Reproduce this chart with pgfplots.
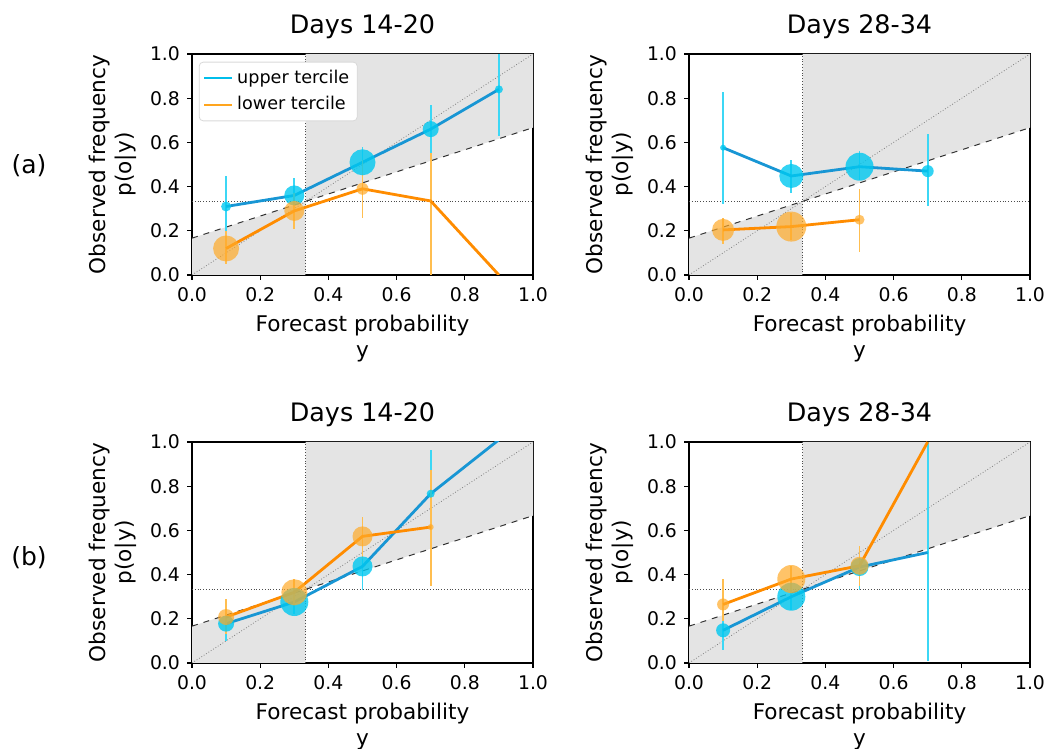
\documentclass[border=0pt]{standalone}
\usepackage{pgfplots}
\pgfplotsset{compat=1.18}
\usepackage{pgfplotstable}
\usepackage{fontspec}
\setmainfont{DejaVu Sans}
\definecolor{lineB}{RGB}{24,150,212}
\definecolor{markB}{RGB}{0,200,240}
\definecolor{errB}{RGB}{60,215,245}
\definecolor{legB}{RGB}{0,190,235}
\definecolor{lineO}{RGB}{255,140,0}
\definecolor{markO}{RGB}{255,170,40}
\definecolor{errO}{RGB}{255,190,80}
\definecolor{legO}{RGB}{255,165,30}
\definecolor{shade}{RGB}{228,228,228}

% x y r(px radius) ep em
\pgfplotstableread{
x y r ep em
0.1 0.31 5 0.14 0.14
0.3 0.36 10 0.08 0.14
0.5 0.51 13 0.07 0.08
0.7 0.66 8 0.11 0.13
0.9 0.84 4 0.16 0.21
}\aLU
\pgfplotstableread{
x y r ep em
0.1 0.12 13 0.08 0.07
0.3 0.29 10 0.08 0.08
0.5 0.39 6 0.13 0.13
0.7 0.335 1 0.215 0.335
0.9 0.0 0 0 0
}\aLL
\pgfplotstableread{
x y r ep em
0.1 0.576 3 0.254 0.256
0.3 0.448 12 0.072 0.078
0.5 0.49 14 0.07 0.06
0.7 0.47 6 0.17 0.16
}\aRU
\pgfplotstableread{
x y r ep em
0.1 0.204 11 0.056 0.064
0.3 0.219 15 0.061 0.059
0.5 0.25 5 0.14 0.145
}\aRL
\pgfplotstableread{
x y r ep em
0.1 0.178 8 0.072 0.078
0.3 0.276 14 0.054 0.056
0.5 0.437 10 0.083 0.107
0.7 0.766 4 0.199 0.206
0.9 1.01 0 0 0
}\bLU
\pgfplotstableread{
x y r ep em
0.1 0.208 8 0.082 0.078
0.3 0.32 13 0.06 0.06
0.5 0.573 10 0.087 0.103
0.7 0.615 3 0.26 0.265
}\bLL
\pgfplotstableread{
x y r ep em
0.1 0.148 7 0.052 0.091
0.3 0.30 14 0.06 0.06
0.5 0.434 9 0.096 0.104
0.7 0.50 1 0.5 0.49
}\bRU
\pgfplotstableread{
x y r ep em
0.1 0.265 6 0.115 0.075
0.3 0.38 14 0.06 0.07
0.5 0.44 9 0.09 0.09
0.7 1.0 0 0 0
}\bRL

\pgfplotsset{
 panel/.style={
  scale only axis, width=170.5pt, height=110.5pt,
  xmin=0, xmax=1, ymin=0, ymax=1,
  xtick={0,0.2,0.4,0.6,0.8,1}, ytick={0,0.2,0.4,0.6,0.8,1},
  xticklabels={0.0,0.2,0.4,0.6,0.8,1.0}, yticklabels={0.0,0.2,0.4,0.6,0.8,1.0},
  tick align=outside, xtick pos=left, ytick pos=left,
  major tick length=2.5pt,
  axis line style={line width=0.6pt},
  every tick/.style={black, line width=0.6pt},
  tick label style={font=\fontsize{9.4}{11}\selectfont},
  xlabel={Forecast probability\\y},
  ylabel={Observed frequency\\p(o|y)},
  label style={align=center, font=\fontsize{10.8}{13}\selectfont},
  title style={font=\fontsize{12.7}{15}\selectfont, yshift=-2pt},
  anchor=south west,
 }
}

\newcommand{\bg}{%
\addplot[fill=shade, draw=none, forget plot] coordinates {(0,0) (0,0.166667) (0.333333,0.333333) (0.333333,0)};
\addplot[fill=shade, draw=none, forget plot] coordinates {(0.333333,0.333333) (0.333333,1) (1,1) (1,0.666667)};
\addplot[gray, densely dotted, line width=0.4pt, forget plot] coordinates {(0,0) (1,1)};
\addplot[black!80, dashed, line width=0.5pt, forget plot] coordinates {(0,0.166667) (1,0.666667)};
\addplot[black!70, densely dotted, line width=0.4pt, forget plot] coordinates {(0,0.333333) (1,0.333333)};
\addplot[black!70, densely dotted, line width=0.4pt, forget plot] coordinates {(0.333333,0) (0.333333,1)};
}

\newcommand{\series}[5]{%
\addplot[draw=none, mark=none, forget plot,
  error bars/.cd, y dir=both, y explicit, error mark=none,
  error bar style={draw=#3, solid, line width=0.9pt}]
  table[x=x, y=y, y error plus=ep, y error minus=em]{#1};
\addplot[draw=none, mark=none, forget plot,
  restrict expr to domain={\thisrow{r}}{0.5:100},
  visualization depends on={\thisrow{r}\as\psize},
  nodes near coords={},
  every node near coord/.style={circle, fill=#2, fill opacity=#5, draw=none,
    inner sep=0pt, outer sep=0pt, text height=0pt, text depth=0pt,
    minimum size=\psize pt, anchor=center}]
  table[x=x, y=y]{#1};
\addplot[#4, line width=1.4pt, mark=none, forget plot] table[x=x, y=y]{#1};
}

\begin{document}
\begin{tikzpicture}
\useasboundingbox (0,0) rectangle (524.5pt,374.5pt);

\begin{axis}[panel, at={(96pt,237pt)}, title={Days 14-20},
  legend style={at={(0.02,0.965)}, anchor=north west, draw=black!15, rounded corners=2pt,
    font=\fontsize{8.8}{12}\selectfont, inner sep=2pt, row sep=1pt},
  legend cell align=left,
  legend image code/.code={\draw[#1, line width=1pt] (0pt,0pt) -- (14pt,0pt);}]
\addlegendimage{legB}
\addlegendentry{upper tercile}
\addlegendimage{legO}
\addlegendentry{lower tercile}
\bg
\series{\aLU}{markB}{errB}{lineB}{0.8}
\series{\aLL}{markO}{errO}{lineO}{0.7}
\end{axis}

\begin{axis}[panel, at={(344.5pt,237pt)}, title={Days 28-34}]
\bg
\series{\aRU}{markB}{errB}{lineB}{0.8}
\series{\aRL}{markO}{errO}{lineO}{0.7}
\end{axis}

\begin{axis}[panel, at={(96pt,43pt)}, title={Days 14-20}]
\bg
\series{\bLU}{markB}{errB}{lineB}{0.8}
\series{\bLL}{markO}{errO}{lineO}{0.7}
\end{axis}

\begin{axis}[panel, at={(344.5pt,43pt)}, title={Days 28-34}]
\bg
\series{\bRU}{markB}{errB}{lineB}{0.8}
\series{\bRL}{markO}{errO}{lineO}{0.7}
\end{axis}

\node[font=\fontsize{12.5}{15}\selectfont] at (14.5pt,291.5pt) {(a)};
\node[font=\fontsize{12.5}{15}\selectfont] at (14.5pt,95.5pt) {(b)};
\end{tikzpicture}
\end{document}
